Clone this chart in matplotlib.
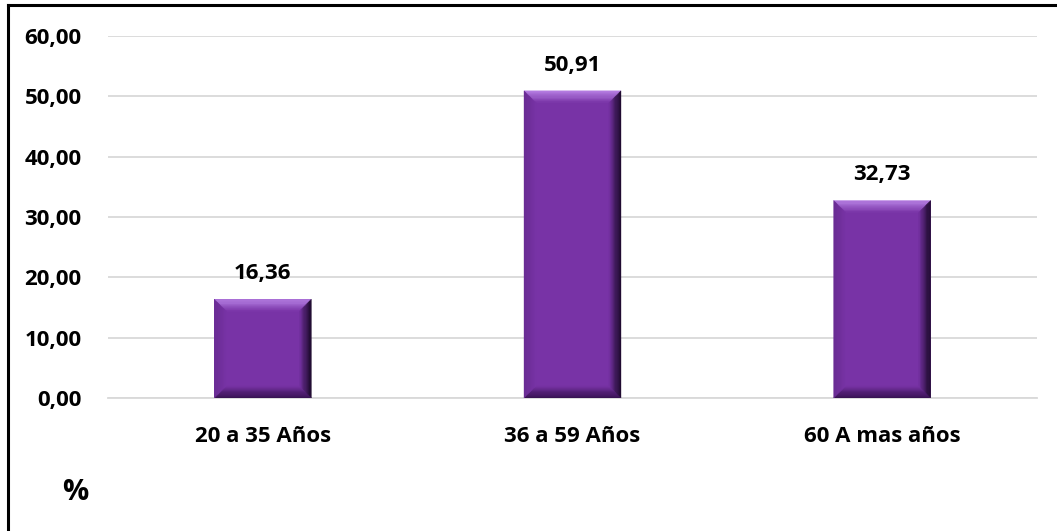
import numpy as np
from matplotlib import pyplot as plt
from matplotlib.patches import Polygon
from matplotlib.lines import Line2D
from matplotlib.colors import to_rgb

categories = ["20 a 35 Años", "36 a 59 Años", "60 A mas años"]
percentages = [16.36, 50.91, 32.73]
y_ticks = [0, 10, 20, 30, 40, 50, 60]

BAR_COLOR = "#7833a6"
# outer edge colour of each bevel face (top, right, bottom, left)
EDGE_COLORS = ["#b57ee2", "#1c0a2b", "#381252", "#6a2c94"]

plt.rcParams["font.family"] = ["Open Sans", "DejaVu Sans"]
plt.rcParams["font.weight"] = "bold"
FS = 16


def fmt(v):
    return "{:.2f}".format(v).replace(".", ",")


def mix(c1, c2, t):
    a, b = np.array(to_rgb(c1)), np.array(to_rgb(c2))
    return tuple(a + (b - a) * t)


def add_bevel(ax, rect, bevel_px=12, steps=10):
    # pixel size of the bevel converted into data units
    inv = ax.transData.inverted()
    x0, y0 = rect.get_x(), rect.get_y()
    w, h = rect.get_width(), rect.get_height()
    p0 = ax.transData.transform((x0, y0))
    p1 = inv.transform((p0[0] + bevel_px, p0[1] + bevel_px))
    bx, by = p1[0] - x0, p1[1] - y0
    by = min(by, h / 2)
    x1, y1 = x0 + w, y0 + h
    for k in range(steps):
        a, b = k / steps, (k + 1) / steps
        faces = [
            [(x0 + a * bx, y1 - a * by), (x1 - a * bx, y1 - a * by),
             (x1 - b * bx, y1 - b * by), (x0 + b * bx, y1 - b * by)],
            [(x1 - a * bx, y0 + a * by), (x1 - a * bx, y1 - a * by),
             (x1 - b * bx, y1 - b * by), (x1 - b * bx, y0 + b * by)],
            [(x0 + a * bx, y0 + a * by), (x1 - a * bx, y0 + a * by),
             (x1 - b * bx, y0 + b * by), (x0 + b * bx, y0 + b * by)],
            [(x0 + a * bx, y0 + a * by), (x0 + a * bx, y1 - a * by),
             (x0 + b * bx, y1 - b * by), (x0 + b * bx, y0 + b * by)],
        ]
        for pts, edge in zip(faces, EDGE_COLORS):
            t = ((k + 0.5) / steps) ** 1.3
            c = mix(edge, BAR_COLOR, t)
            ax.add_patch(Polygon(pts, closed=True, facecolor=c, edgecolor=c,
                                 linewidth=0.3, zorder=3))


fig = plt.figure(figsize=(10.57, 5.31), dpi=100)
ax = fig.add_axes([108 / 1057, 133 / 531, 929 / 1057, 362 / 531])

x = np.arange(len(categories))
rects = ax.bar(x, percentages, width=0.313, color=BAR_COLOR, zorder=2)

ax.set_xlim(-0.5, len(categories) - 0.5)
ax.set_ylim(0, 60)
ax.set_yticks(y_ticks)
ax.set_yticklabels([fmt(v) for v in y_ticks], fontsize=FS, fontweight="bold")
ax.set_xticks(x)
ax.set_xticklabels(categories, fontsize=FS, fontweight="bold")
ax.tick_params(axis="both", length=0)
ax.tick_params(axis="y", pad=19)
ax.tick_params(axis="x", pad=20)
ax.grid(axis="y", color="#d9d9d9", linewidth=1.3, zorder=0)
for side in ["top", "right", "left"]:
    ax.spines[side].set_visible(False)
ax.spines["bottom"].set_color("#d9d9d9")
ax.spines["bottom"].set_linewidth(1.3)

for rect, v in zip(rects, percentages):
    add_bevel(ax, rect)
    ax.annotate(fmt(v), xy=(rect.get_x() + rect.get_width() / 2, v), xytext=(0, 11),
                textcoords="offset points", ha="center", va="bottom",
                fontsize=FS, fontweight="bold")

fig.text(75 / 1057, 1 - 492 / 531, "%", fontsize=21, fontweight="bold", ha="center", va="center")

# chart frame: left and top edges only
fig.add_artist(Line2D([8 / 1057, 8 / 1057], [0, 1 - 5 / 531], transform=fig.transFigure,
                      color="black", linewidth=2.2))
fig.add_artist(Line2D([8 / 1057, 1], [1 - 5 / 531, 1 - 5 / 531], transform=fig.transFigure,
                      color="black", linewidth=2.2))

fig.savefig("out.png", dpi=100)
